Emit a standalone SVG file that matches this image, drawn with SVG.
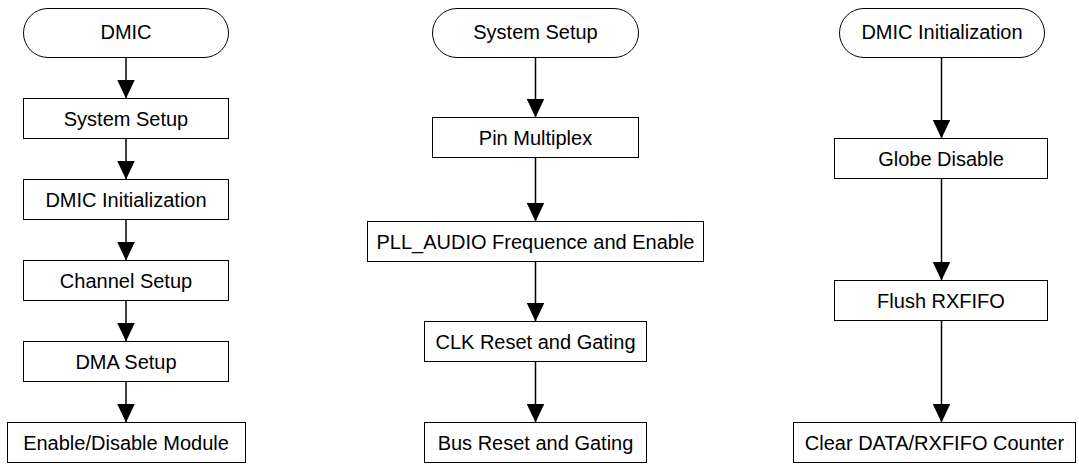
<svg xmlns="http://www.w3.org/2000/svg" width="1079" height="464" viewBox="0 0 1079 464">
<style>
.shape{fill:#fff;stroke:#000;stroke-width:1}
.lbl{font-family:"Liberation Sans",Arial,sans-serif;font-size:20px;fill:#000;text-anchor:middle}
.conn{stroke:#000;stroke-width:1.5;fill:none;marker-end:url(#ah)}
</style>
<defs>
<marker id="ah" markerUnits="userSpaceOnUse" markerWidth="19" markerHeight="18" viewBox="0 0 19 18" refX="19" refY="9" orient="auto">
<path d="M0,0 L19,9 L0,18 Z" fill="#000"/>
</marker>
</defs>
<rect width="1079" height="464" fill="#fff"/>
<g id="connectors">
<line class="conn" x1="126" y1="57.5" x2="126" y2="98.5"/>
<line class="conn" x1="126" y1="138.5" x2="126" y2="179.5"/>
<line class="conn" x1="126" y1="219.5" x2="126" y2="260.5"/>
<line class="conn" x1="126" y1="300.5" x2="126" y2="341.5"/>
<line class="conn" x1="126" y1="381.5" x2="126" y2="422.5"/>
<line class="conn" x1="535.5" y1="57.5" x2="535.5" y2="117.5"/>
<line class="conn" x1="535.5" y1="157.5" x2="535.5" y2="221.5"/>
<line class="conn" x1="535.5" y1="261.5" x2="535.5" y2="321.5"/>
<line class="conn" x1="535.5" y1="361.5" x2="535.5" y2="422.5"/>
<line class="conn" x1="941.5" y1="57.5" x2="941.5" y2="138.5"/>
<line class="conn" x1="941.5" y1="178.5" x2="941.5" y2="280.5"/>
<line class="conn" x1="941.5" y1="320.5" x2="941.5" y2="422.5"/>
</g>
<g id="n_dmic"><rect class="shape" x="23.5" y="8.5" width="205" height="49" rx="24.5"/><text class="lbl" x="126" y="39">DMIC</text></g>
<g id="n_syssetup1"><rect class="shape" x="23.5" y="98.5" width="205" height="40"/><text class="lbl" x="126" y="126">System Setup</text></g>
<g id="n_dmicinit1"><rect class="shape" x="23.5" y="179.5" width="205" height="40"/><text class="lbl" x="126" y="207">DMIC Initialization</text></g>
<g id="n_channel"><rect class="shape" x="23.5" y="260.5" width="205" height="40"/><text class="lbl" x="126" y="288">Channel Setup</text></g>
<g id="n_dma"><rect class="shape" x="23.5" y="341.5" width="205" height="40"/><text class="lbl" x="126" y="369">DMA Setup</text></g>
<g id="n_enable"><rect class="shape" x="7.5" y="422.5" width="238" height="40"/><text class="lbl" x="126" y="450">Enable/Disable Module</text></g>
<g id="n_syssetup2"><rect class="shape" x="432.5" y="8.5" width="206" height="49" rx="24.5"/><text class="lbl" x="535.5" y="39">System Setup</text></g>
<g id="n_pin"><rect class="shape" x="432.5" y="117.5" width="206" height="40"/><text class="lbl" x="535.5" y="145">Pin Multiplex</text></g>
<g id="n_pll"><rect class="shape" x="367.5" y="221.5" width="336" height="40"/><text class="lbl" x="535.5" y="249">PLL_AUDIO Frequence and Enable</text></g>
<g id="n_clk"><rect class="shape" x="424.5" y="321.5" width="222" height="40"/><text class="lbl" x="535.5" y="349">CLK Reset and Gating</text></g>
<g id="n_bus"><rect class="shape" x="424.5" y="422.5" width="222" height="40"/><text class="lbl" x="535.5" y="450">Bus Reset and Gating</text></g>
<g id="n_dmicinit2"><rect class="shape" x="839.5" y="8.5" width="205" height="49" rx="24.5"/><text class="lbl" x="942" y="39">DMIC Initialization</text></g>
<g id="n_globe"><rect class="shape" x="834.5" y="138.5" width="213" height="40"/><text class="lbl" x="941" y="166">Globe Disable</text></g>
<g id="n_flush"><rect class="shape" x="834.5" y="280.5" width="213" height="40"/><text class="lbl" x="941" y="308">Flush RXFIFO</text></g>
<g id="n_clear"><rect class="shape" x="793.5" y="422.5" width="282" height="40"/><text class="lbl" x="934.5" y="450">Clear DATA/RXFIFO Counter</text></g>
</svg>
